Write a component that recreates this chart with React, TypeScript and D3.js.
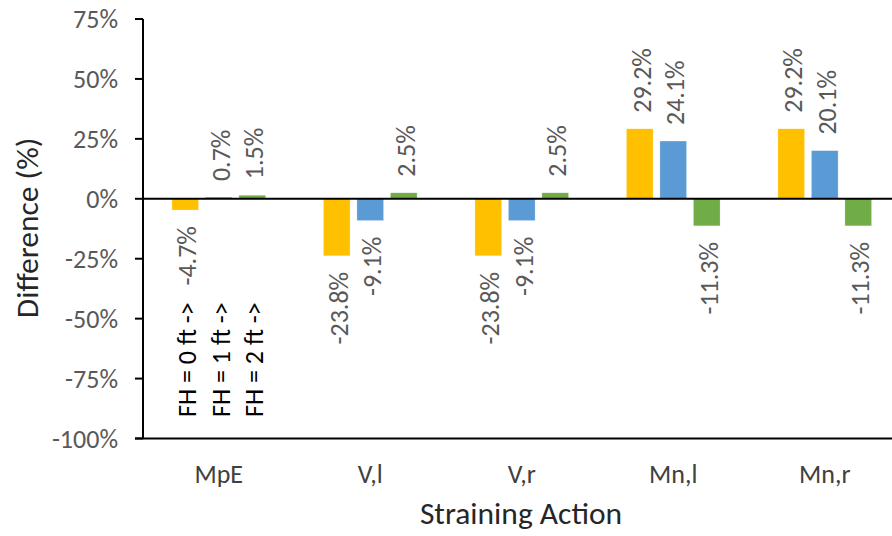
import React from "react";
import * as d3 from "d3";

const categories = ["MpE", "V,l", "V,r", "Mn,l", "Mn,r"];
const seriesNames = ["FH = 0 ft", "FH = 1 ft", "FH = 2 ft"];
const fh0 = [-4.7, -23.8, -23.8, 29.2, 29.2];
const fh1 = [0.7, -9.1, -9.1, 24.1, 20.1];
const fh2 = [1.5, 2.5, 2.5, -11.3, -11.3];
const seriesValues = [fh0, fh1, fh2];
const seriesColors = ["#FFC000", "#5B9BD5", "#70AD47"];
const fhLabels = ["FH = 0 ft ->", "FH = 1 ft ->", "FH = 2 ft ->"];
const yTicks = [75, 50, 25, 0, -25, -50, -75, -100];

const W = 892;
const H = 536;
const FONT = "Carlito, Calibri, Lato, sans-serif";

export default function App() {
  const left = 143;
  const right = 900.5;
  const top = 19;
  const bottom = 438.5;

  const x = d3.scaleBand<string>().domain(categories).range([left, right]).padding(0);
  const y = d3.scaleLinear().domain([-100, 75]).range([bottom, top]);

  const barW = 26.7;
  const step = 33.5;
  const offsets = [-step, 0, step];

  return (
    <svg
      width={W}
      height={H}
      style={{ position: "absolute", left: 0, top: 0, background: "#fff" }}
      fontFamily={FONT}
    >
      <rect x={0} y={0} width={W} height={H} fill="#fff" />
      {/* bars */}
      {seriesValues.map((vals, si) =>
        vals.map((v, ci) => {
          const cx = (x(categories[ci]) as number) + x.bandwidth() / 2 + offsets[si];
          const y0 = y(0);
          const y1 = y(v);
          return (
            <rect
              key={`b-${si}-${ci}`}
              x={cx - barW / 2}
              y={Math.min(y0, y1)}
              width={barW}
              height={Math.max(Math.abs(y1 - y0), 1)}
              fill={seriesColors[si]}
              stroke="#ffffff"
              strokeOpacity={0.6}
              strokeWidth={0.5}
            />
          );
        })
      )}
      {/* data labels */}
      {seriesValues.map((vals, si) =>
        vals.map((v, ci) => {
          const cx = (x(categories[ci]) as number) + x.bandwidth() / 2 + offsets[si] + 1.5;
          const yv = y(v);
          const ly = v >= 0 ? yv - 16 : yv + 16;
          return (
            <text
              key={`l-${si}-${ci}`}
              transform={`translate(${cx},${ly}) rotate(-90)`}
              textAnchor={v >= 0 ? "start" : "end"}
              dy="0.36em"
              fontSize={26}
              fill="#595959"
            >
              {`${v.toFixed(1)}%`}
            </text>
          );
        })
      )}
      {/* FH annotations */}
      {fhLabels.map((t, si) => {
        const cx = (x(categories[0]) as number) + x.bandwidth() / 2 + offsets[si] + 1.5;
        return (
          <text
            key={`fh-${si}`}
            transform={`translate(${cx},417) rotate(-90)`}
            textAnchor="start"
            dy="0.36em"
            fontSize={26}
            fill="#000"
          >
            {t}
          </text>
        );
      })}
      {/* y axis */}
      <line x1={left} x2={left} y1={top} y2={bottom} stroke="#000" strokeWidth={2} />
      {yTicks.map((t) => (
        <g key={`t-${t}`}>
          <line x1={left - 8} x2={left} y1={y(t)} y2={y(t)} stroke="#000" strokeWidth={2} />
          <text
            x={118}
            y={y(t)}
            dy="0.36em"
            textAnchor="end"
            fontSize={26}
            fill="#595959"
          >
            {`${t}%`}
          </text>
        </g>
      ))}
      {/* zero line and bottom line */}
      <line x1={left} x2={right} y1={y(0)} y2={y(0)} stroke="#000" strokeWidth={2} />
      <line x1={left - 8} x2={right} y1={bottom} y2={bottom} stroke="#000" strokeWidth={2} />
      {/* x labels */}
      {categories.map((c) => (
        <text
          key={`c-${c}`}
          x={(x(c) as number) + x.bandwidth() / 2}
          y={483}
          textAnchor="middle"
          fontSize={26}
          fill="#404040"
        >
          {c}
        </text>
      ))}
      <text x={521} y={524} textAnchor="middle" fontSize={31.5} fill="#262626">
        Straining Action
      </text>
      <text
        transform={`translate(27,228) rotate(-90)`}
        textAnchor="middle"
        dy="0.36em"
        fontSize={31.5}
        fill="#262626"
      >
        Difference (%)
      </text>
    </svg>
  );
}
